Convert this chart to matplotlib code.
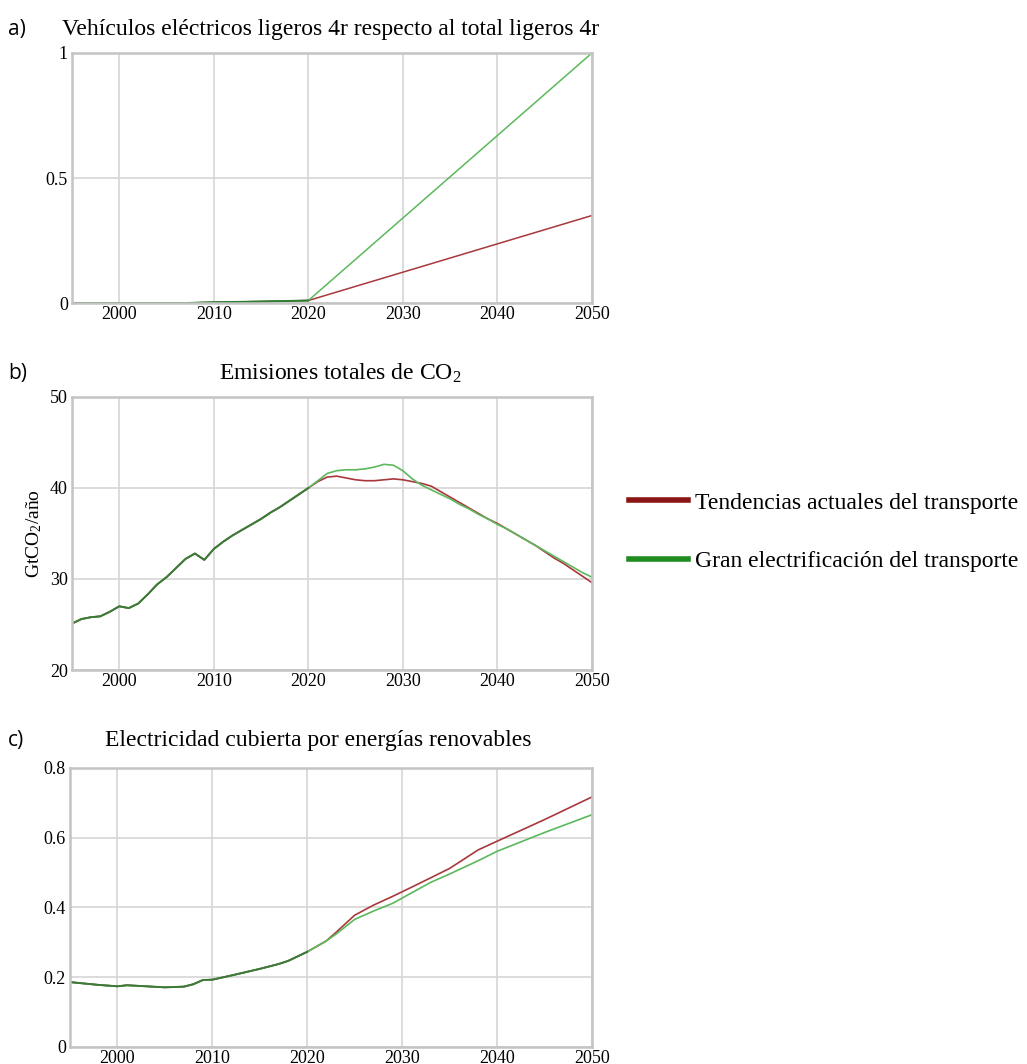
import numpy as np
import matplotlib.pyplot as plt
from matplotlib.lines import Line2D

# --- data -------------------------------------------------------------
years_a = [1995, 2000, 2005, 2007, 2010, 2015, 2020, 2050]
ev_tendencias = [0.0, 0.0, 0.0, 0.0, 0.003, 0.006, 0.01, 0.35]
ev_gran = [0.0, 0.0, 0.0, 0.0, 0.003, 0.006, 0.01, 1.0]

years = list(range(1995, 2051))
co2_tendencias = [
    25.1, 25.6, 25.8, 25.9, 26.4, 27.0, 26.8, 27.3, 28.3, 29.4,
    30.2, 31.2, 32.2, 32.8, 32.1, 33.3, 34.1, 34.8, 35.4, 36.0,
    36.6, 37.3, 37.9, 38.6, 39.3, 40.0, 40.7, 41.2, 41.3, 41.1,
    40.9, 40.8, 40.8, 40.9, 41.0, 40.9, 40.7, 40.5, 40.2, 39.6,
    39.0, 38.4, 37.8, 37.2, 36.6, 36.1, 35.5, 34.9, 34.3, 33.7,
    33.0, 32.3, 31.7, 31.0, 30.3, 29.6,
]
co2_gran = [
    25.1, 25.6, 25.8, 25.9, 26.4, 27.0, 26.8, 27.3, 28.3, 29.4,
    30.2, 31.2, 32.2, 32.8, 32.1, 33.3, 34.1, 34.8, 35.4, 36.0,
    36.6, 37.3, 37.9, 38.6, 39.3, 40.0, 40.8, 41.6, 41.9, 42.0,
    42.0, 42.1, 42.3, 42.6, 42.5, 41.9, 41.0, 40.3, 39.8, 39.3,
    38.8, 38.2, 37.7, 37.1, 36.6, 36.0, 35.5, 34.9, 34.3, 33.7,
    33.1, 32.5, 31.9, 31.3, 30.7, 30.2,
]

years_c = [1995, 1998, 2000, 2001, 2003, 2005, 2007, 2008, 2009, 2010,
           2012, 2015, 2017, 2018, 2020, 2022, 2023, 2025, 2027, 2029,
           2030, 2033, 2035, 2038, 2040, 2045, 2050]
renov_tendencias = [0.186, 0.178, 0.174, 0.177, 0.174, 0.171, 0.173, 0.180,
                    0.192, 0.193, 0.205, 0.224, 0.238, 0.247, 0.273, 0.304,
                    0.328, 0.378, 0.407, 0.432, 0.445, 0.485, 0.512, 0.565,
                    0.590, 0.652, 0.717]
renov_gran = [0.186, 0.178, 0.174, 0.177, 0.174, 0.171, 0.173, 0.180,
              0.192, 0.193, 0.205, 0.224, 0.238, 0.247, 0.273, 0.304,
              0.323, 0.366, 0.390, 0.412, 0.427, 0.472, 0.496, 0.534,
              0.561, 0.615, 0.666]

x_ticks = [2000, 2010, 2020, 2030, 2040, 2050]

RED = "#a8383c"
GREEN = "#5cb85c"
SERIF = "Liberation Serif"
SANS = "Open Sans"

plt.rcParams["mathtext.fontset"] = "custom"
plt.rcParams["mathtext.rm"] = SERIF
plt.rcParams["mathtext.it"] = SERIF + ":italic"

fig = plt.figure(figsize=(10.27, 10.64), dpi=100)

ax_a = fig.add_axes([0.0701, 0.7152, 0.5063, 0.2350])
ax_b = fig.add_axes([0.0701, 0.3703, 0.5063, 0.2566])
ax_c = fig.add_axes([0.0682, 0.0160, 0.5082, 0.2622])


def style_axes(ax, ylim, yticks, yticklabels):
    ax.set_xlim(1995, 2050)
    ax.set_ylim(*ylim)
    ax.set_xticks(x_ticks)
    ax.set_xticklabels([str(t) for t in x_ticks], family=SERIF, fontsize=13)
    ax.set_yticks(yticks)
    ax.set_yticklabels(yticklabels, family=SERIF, fontsize=13)
    ax.tick_params(length=0, pad=3)
    ax.tick_params(axis="x", pad=2)
    ax.grid(True, color="#d6d6d6", linewidth=1.2)
    ax.set_axisbelow(True)
    for sp in ax.spines.values():
        sp.set_color("#c4c4c4")
        sp.set_linewidth(1.8)


# a) share of electric light vehicles
ax_a.plot(years_a, ev_tendencias, color=RED, linewidth=1.1)
ax_a.plot(years_a, ev_gran, color=GREEN, linewidth=1.1)
ax_a.plot(years_a[:7], ev_gran[:7], color="#2e7d32", linewidth=1.4)
style_axes(ax_a, (0, 1), [0, 0.5, 1], ["0", "0.5", "1"])
fig.text(0.008, 0.972, "a)", family=SANS, fontsize=15, va="center")
fig.text(0.322, 0.972, "Vehículos eléctricos ligeros 4r respecto al total ligeros 4r",
         family=SERIF, fontsize=17, ha="center", va="center")

# b) total CO2 emissions
ax_b.plot(years, co2_tendencias, color=RED, linewidth=1.2)
ax_b.plot(years, co2_gran, color=GREEN, linewidth=1.2)
ax_b.plot(years[:26], co2_gran[:26], color="#3d7a3a", linewidth=1.4)
style_axes(ax_b, (20, 50), [20, 30, 40, 50], ["20", "30", "40", "50"])
ax_b.set_ylabel("GtCO$_2$/año", family=SERIF, fontsize=14, labelpad=4)
fig.text(0.008, 0.649, "b)", family=SANS, fontsize=15, va="center")
fig.text(0.331, 0.649, "Emisiones totales de CO$_2$",
         family=SERIF, fontsize=17, ha="center", va="center")

# c) electricity from renewables
ax_c.plot(years_c, renov_tendencias, color=RED, linewidth=1.2)
ax_c.plot(years_c, renov_gran, color=GREEN, linewidth=1.2)
ax_c.plot(years_c[:15], renov_gran[:15], color="#3d7a3a", linewidth=1.4)
style_axes(ax_c, (0, 0.8), [0, 0.2, 0.4, 0.6, 0.8],
           ["0", "0.2", "0.4", "0.6", "0.8"])
fig.text(0.008, 0.304, "c)", family=SANS, fontsize=15, va="center")
fig.text(0.310, 0.304, "Electricidad cubierta por energías renovables",
         family=SERIF, fontsize=17, ha="center", va="center")

# shared legend on the right
handles = [
    Line2D([], [], color="#8b1414", linewidth=4),
    Line2D([], [], color="#1e8c1e", linewidth=4),
]
fig.legend(handles,
           ["Tendencias actuales del transporte",
            "Gran electrificación del transporte"],
           loc="center left", bbox_to_anchor=(0.592, 0.5),
           frameon=False, handlelength=2.5, handletextpad=0.3,
           labelspacing=1.55, prop={"family": SERIF, "size": 17})

fig.savefig("out.png", dpi=100)
